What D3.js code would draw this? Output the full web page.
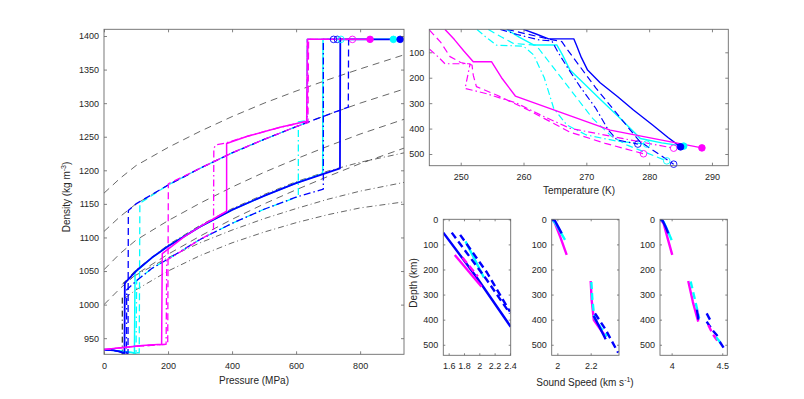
<!DOCTYPE html>
<html>
<head>
<meta charset="utf-8">
<script src="https://cdn.jsdelivr.net/npm/d3@7"></script>
<style>
body { margin: 0; background: #fff; }
text { font-family: "Liberation Sans", Arial, sans-serif; fill: #262626; }
</style>
</head>
<body>
<svg id="chart" width="804" height="399"></svg>
<script>
// ---------- main panel: density vs pressure ([P MPa, rho kg/m3]) ----------
var pressTicks = [0, 200, 400, 600, 800]
var densTicks = [950, 1000, 1050, 1100, 1150, 1200, 1250, 1300, 1350, 1400]

// black reference curves
var refDash1 = [[0,1166],[50,1188],[100,1207],[200,1234],[300,1258],[400,1280],[500,1300],[600,1318],[700,1335],[800,1351],[937,1372]]
var refDash2 = [[0,1109],[50,1131],[100,1150],[200,1178],[300,1203],[400,1226],[500,1246],[600,1265],[700,1283],[800,1300],[937,1321]]
var refDash3 = [[0,1052],[50,1076],[100,1096],[200,1125],[300,1151],[400,1175],[500,1197],[600,1217],[700,1236],[800,1254],[937,1276]]
var refDash4 = [[0,1000],[50,1024],[100,1045],[200,1075],[300,1102],[400,1127],[500,1150],[600,1171],[700,1191],[800,1210],[937,1233]]
var refDot1 = [[57,1030],[100,1052],[200,1089],[300,1118],[400,1143],[500,1164],[600,1183],[700,1199],[800,1212],[937,1226]]
var refDot2 = [[60,1032],[100,1044],[200,1070],[300,1092],[400,1111],[500,1128],[600,1143],[700,1157],[800,1169],[937,1182]]
var refDot3 = [[66,1010],[100,1022],[200,1050],[300,1073],[400,1092],[500,1108],[600,1122],[700,1134],[800,1144],[937,1153]]
var refVert = [[57,924],[57,1012]]

// coloured profiles
var magSolidP = [[0,933],[60,936],[120,939],[180,941],[182,1076],[250,1101],[300,1116],[383,1139],[383,1240],[450,1251],[550,1264],[633,1273],[635,1395],[831,1395]]
var magDashP = [[0,933],[100,938],[199,941],[201,1180],[300,1203],[400,1226],[500,1246],[600,1265],[637,1271],[639,1395],[776,1395]]
var magDotP = [[0,933],[100,938],[194,941],[196,1066],[250,1082],[300,1097],[342,1108],[343,1233],[350,1238],[383,1241],[450,1251],[550,1264],[635,1273],[637,1395],[776,1395]]
var cyanSolidP = [[0,933],[50,931],[95,928],[97,1048],[150,1070],[200,1087],[300,1116],[400,1141],[500,1162],[600,1181],[683,1195],[684,1395],[904,1395]]
var cyanDashP = [[0,933],[60,930],[110,928],[112,1151],[200,1178],[300,1203],[400,1226],[500,1246],[600,1265],[633,1271],[635,1395],[740,1395]]
var cyanDotP = [[0,933],[60,930],[100,927],[102,1036],[150,1054],[200,1068],[300,1097],[400,1121],[500,1142],[607,1161],[607,1272],[633,1274],[635,1395],[740,1395]]
var blueSolidP = [[0,933],[30,932],[50,930],[64,927],[65,1032],[100,1050],[150,1070],[200,1087],[300,1116],[400,1141],[500,1162],[600,1181],[700,1197],[737,1203],[738,1395],[925,1395]]
var blueDashP = [[0,933],[30,932],[60,929],[75,927],[76,1140],[100,1150],[200,1178],[300,1203],[400,1226],[500,1246],[600,1265],[700,1283],[763,1294],[764,1395],[729,1395]]
var blueDotP = [[0,933],[30,932],[60,929],[70,926],[71,1022],[100,1035],[150,1054],[200,1068],[300,1097],[400,1121],[500,1142],[600,1160],[685,1172],[685,1395],[717,1395]]

// end markers [P, rho, colour, filled]
var pressMarks = [[717,1395,'b',0],[729,1395,'b',0],[740,1395,'c',0],[776,1395,'m',0],[831,1395,'m',1],[904,1395,'c',1],[925,1395,'b',1]]

// ---------- top right: temperature vs depth ([T K, depth km]) ----------
var tempTicks = [250, 260, 270, 280, 290]
var depthTicksT = [100, 200, 300, 400, 500]
var magSolidT = [[247.5,10],[249,50],[250.5,95],[252,137],[254.9,137],[256.5,200],[258.7,272],[273.8,406],[288.4,476]]
var magDashT = [[245,12],[246.8,60],[248.3,117],[250,140],[251.8,150],[252,190],[252.5,235],[255.7,268],[261,330],[267.4,414],[273,458],[279.1,499]]
var magDotT = [[245,87],[246.5,120],[247.5,145],[251.5,145],[250.7,242],[254,262],[258.9,300],[263,350],[267.4,399],[276,440],[283.9,477]]
var cyanSolidT = [[257.3,10],[259.3,40],[261.6,71],[265.3,71],[266.2,110],[267.4,170],[269.5,220],[272.2,285],[275.5,362],[278.6,439],[282,456],[285.5,469]]
var cyanDashT = [[254.4,10],[256.5,40],[258.4,65],[262,72],[263.5,120],[266,200],[268.5,280],[271,360],[274,430],[276.5,465],[282.8,527]]
var cyanDotT = [[252.6,10],[254,40],[255.7,72],[260,76],[261.6,110],[263.3,200],[264.8,320],[266.9,386],[270,425],[275,450],[279.6,461]]
var blueSolidT = [[260,10],[262,28],[264,47],[268,47],[268.4,70],[269.2,120],[270.2,170],[272.2,220],[275,275],[277.5,327],[280.5,385],[283,435],[285,472]]
var blueDashT = [[257.4,10],[260.5,28],[264,48],[266.1,58],[267,90],[268.8,150],[271.5,240],[274.5,330],[277,406],[278.5,450],[283.9,540]]
var blueDotT = [[256.3,10],[259,30],[262.6,52],[264.5,55],[265.5,100],[267,160],[269,235],[271.5,320],[273.5,406],[274.9,445],[278.2,461]]
var tempMarks = [[278.2,461,'b',0],[283.9,540,'b',0],[279.6,461,'c',0],[282.8,527,'c',0],[279.1,499,'m',0],[283.9,477,'m',0],[285.5,469,'c',1],[285,472,'b',1],[288.4,476,'m',1]]

// ---------- bottom: sound speed vs depth ([v km/s, depth km]) ----------
var depthTicksB = [0, 100, 200, 300, 400, 500]
var speed1Ticks = [1.6, 1.8, 2, 2.2, 2.4]
var speed2Ticks = [2, 2.2]
var speed3Ticks = [4, 4.5]

var s1BlueSolid = [[1.53,53],[1.96,229],[2.41,428]]
var s1BlueDash = [[1.64,53],[2.09,238],[2.4,375]]
var s1BlueDash2 = [[1.75,62],[2.1,212],[2.4,368]]
var s1Cyan = [[1.82,88],[2.06,232]]
var s1MagSolid = [[1.68,142],[2.03,269]]
var s1MagDash = [[1.78,152],[1.98,228]]

var s2Mag1 = [[1.968,0],[1.985,15],[2.02,75],[2.056,142]]
var s2Cyan1 = [[1.968,0],[1.99,18],[2.02,52],[2.046,82]]
var s2Blue1 = [[1.966,0],[1.985,5],[2.005,30],[2.026,56]]
var s2Mag2 = [[2.2,246],[2.206,322],[2.219,402],[2.26,440],[2.29,468]]
var s2Cyan2 = [[2.204,250],[2.21,320],[2.222,392],[2.26,432],[2.3,466]]
var s2Blue2 = [[2.218,385],[2.25,425],[2.29,478]]
var s2BlueDash2 = [[2.226,375],[2.29,440],[2.365,532]]

var s3Blue1 = [[3.885,0],[3.91,5],[3.94,30],[3.967,56]]
var s3Cyan1 = [[3.885,0],[3.92,10],[3.96,45],[4.0,83]]
var s3Mag1 = [[3.885,0],[3.92,15],[3.96,75],[4.006,142]]
var s3Mag2 = [[4.164,246],[4.21,330],[4.263,408]]
var s3Cyan2 = [[4.188,248],[4.23,320],[4.272,394]]
var s3Blue2 = [[4.25,360],[4.265,400]]
var s3Blue3 = [[4.346,375],[4.39,408]]
var s3Blue4 = [[4.346,408],[4.4,440],[4.46,468]]
var s3Mag3 = [[4.362,421],[4.41,460],[4.46,488]]
var s3Cyan3 = [[4.44,470],[4.48,490]]
var s3Blue5 = [[4.475,488],[4.524,518]]

var colors = { m: '#ff00ff', c: '#00ffff', b: '#0000ff', k: '#000000' }
var dashes = { solid: null, dash: '7,4', dot: '7,3,1.5,3', kdash: '7,5', kdot: '6,3,1,3' }

var svg = d3.select('#chart')
var clipCount = 0

function makePanel(o) {
	var x = d3.scaleLinear().domain(o.xd).range([o.l, o.r])
	var y = d3.scaleLinear().domain(o.yd).range(o.down ? [o.t, o.b] : [o.b, o.t])
	var id = 'clip' + (clipCount++)
	svg.append('clipPath').attr('id', id)
		.append('rect')
		.attr('x', o.l).attr('y', o.t)
		.attr('width', o.r - o.l).attr('height', o.b - o.t)
	var g = svg.append('g').attr('clip-path', 'url(#' + id + ')')
	return { x: x, y: y, g: g, o: o }
}

function addLine(p, data, col, style, width) {
	var line = d3.line().x(d => p.x(d[0])).y(d => p.y(d[1]))
	p.g.append('path')
		.datum(data)
		.attr('d', line)
		.attr('fill', 'none')
		.attr('stroke', colors[col])
		.attr('stroke-width', width)
		.attr('stroke-dasharray', dashes[style])
		.attr('stroke-linejoin', 'round')
}

function addMarks(p, marks, r) {
	svg.append('g').selectAll('circle')
		.data(marks)
		.enter()
		.append('circle')
			.attr('cx', d => p.x(d[0]))
			.attr('cy', d => p.y(d[1]))
			.attr('r', r)
			.attr('fill', d => d[3] ? colors[d[2]] : 'none')
			.attr('stroke', d => colors[d[2]])
			.attr('stroke-width', 0.9)
}

function drawAxes(p, xt, yt, tk, xpad) {
	var o = p.o
	var ax = svg.append('g').attr('color', '#262626')
	var fmt = d3.format('')
	var parts = [
		ax.append('g').attr('transform', 'translate(0,' + o.b + ')')
			.call(d3.axisBottom(p.x).tickValues(xt).tickFormat(fmt).tickSizeInner(-tk).tickSizeOuter(0).tickPadding(xpad)),
		ax.append('g').attr('transform', 'translate(0,' + o.t + ')')
			.call(d3.axisTop(p.x).tickValues(xt).tickFormat('').tickSizeInner(-tk).tickSizeOuter(0)),
		ax.append('g').attr('transform', 'translate(' + o.l + ',0)')
			.call(d3.axisLeft(p.y).tickValues(yt).tickFormat(fmt).tickSizeInner(-tk).tickSizeOuter(0).tickPadding(5)),
		ax.append('g').attr('transform', 'translate(' + o.r + ',0)')
			.call(d3.axisRight(p.y).tickValues(yt).tickFormat('').tickSizeInner(-tk).tickSizeOuter(0))
	]
	parts.forEach(a => {
		a.select('.domain').remove()
		a.attr('font-size', 9).attr('font-family', '"Liberation Sans", Arial, sans-serif')
		a.selectAll('line').attr('stroke', '#4d4d4d').attr('stroke-width', 0.7)
	})
	ax.append('rect')
		.attr('x', o.l).attr('y', o.t)
		.attr('width', o.r - o.l).attr('height', o.b - o.t)
		.attr('fill', 'none')
		.attr('stroke', '#6b6b6b')
		.attr('stroke-width', 0.9)
}

// ---------- main panel ----------
var pMain = makePanel({ l: 104, r: 404, t: 29.3, b: 354.3, xd: [0, 937], yd: [926, 1410] })
;[refDash1, refDash2, refDash3, refDash4].forEach(d => addLine(pMain, d, 'k', 'kdash', 0.6))
;[refDot1, refDot2, refDot3].forEach(d => addLine(pMain, d, 'k', 'kdot', 0.6))
addLine(pMain, refVert, 'k', 'kdot', 1)
addLine(pMain, cyanDotP, 'c', 'dot', 1.3)
addLine(pMain, cyanDashP, 'c', 'dash', 1.3)
addLine(pMain, cyanSolidP, 'c', 'solid', 1.5)
addLine(pMain, blueDotP, 'b', 'dot', 1.3)
addLine(pMain, blueDashP, 'b', 'dash', 1.3)
addLine(pMain, blueSolidP, 'b', 'solid', 1.8)
addLine(pMain, magDotP, 'm', 'dot', 1.3)
addLine(pMain, magDashP, 'm', 'dash', 1.3)
addLine(pMain, magSolidP, 'm', 'solid', 1.5)
addMarks(pMain, pressMarks, 3.3)
drawAxes(pMain, pressTicks, densTicks, 3, 8)

// ---------- temperature panel ----------
var pTemp = makePanel({ l: 429.3, r: 728.3, t: 29.3, b: 165.7, xd: [245, 292.6], yd: [9.5, 546], down: true })
addLine(pTemp, cyanDotT, 'c', 'dot', 1.2)
addLine(pTemp, cyanDashT, 'c', 'dash', 1.2)
addLine(pTemp, cyanSolidT, 'c', 'solid', 1.4)
addLine(pTemp, blueDotT, 'b', 'dot', 1.2)
addLine(pTemp, blueDashT, 'b', 'dash', 1.2)
addLine(pTemp, blueSolidT, 'b', 'solid', 1.4)
addLine(pTemp, magDotT, 'm', 'dot', 1.2)
addLine(pTemp, magDashT, 'm', 'dash', 1.2)
addLine(pTemp, magSolidT, 'm', 'solid', 1.4)
addMarks(pTemp, tempMarks, 3.3)
drawAxes(pTemp, tempTicks, depthTicksT, 3, 8)

// ---------- sound speed panels ----------
var pS1 = makePanel({ l: 443.3, r: 510.7, t: 219.3, b: 355.3, xd: [1.53, 2.41], yd: [0, 542], down: true })
addLine(pS1, s1Cyan, 'c', 'solid', 2.4)
addLine(pS1, s1BlueDash2, 'b', 'dash', 2.4)
addLine(pS1, s1BlueDash, 'b', 'dash', 2.4)
addLine(pS1, s1BlueSolid, 'b', 'solid', 2.4)
addLine(pS1, s1MagSolid, 'm', 'solid', 2.4)
addLine(pS1, s1MagDash, 'm', 'dash', 2.4)
drawAxes(pS1, speed1Ticks, depthTicksB, 2, 7)

var pS2 = makePanel({ l: 551.7, r: 619, t: 219.3, b: 355.3, xd: [1.966, 2.37], yd: [0, 542], down: true })
addLine(pS2, s2Mag1, 'm', 'solid', 2.4)
addLine(pS2, s2Cyan1, 'c', 'solid', 2.4)
addLine(pS2, s2Blue1, 'b', 'solid', 2.4)
addLine(pS2, s2Mag2, 'm', 'solid', 2.4)
addLine(pS2, s2Cyan2, 'c', 'dash', 2.4)
addLine(pS2, s2Blue2, 'b', 'solid', 2.4)
addLine(pS2, s2BlueDash2, 'b', 'dash', 2.4)
drawAxes(pS2, speed2Ticks, depthTicksB, 2, 7)

var pS3 = makePanel({ l: 660, r: 727.3, t: 219.3, b: 355.3, xd: [3.885, 4.55], yd: [0, 542], down: true })
addLine(pS3, s3Mag1, 'm', 'solid', 2.4)
addLine(pS3, s3Cyan1, 'c', 'solid', 2.4)
addLine(pS3, s3Blue1, 'b', 'solid', 2.4)
addLine(pS3, s3Mag2, 'm', 'solid', 2.4)
addLine(pS3, s3Cyan2, 'c', 'dash', 2.4)
addLine(pS3, s3Blue2, 'b', 'solid', 2.4)
addLine(pS3, s3Blue3, 'b', 'dash', 2.4)
addLine(pS3, s3Blue4, 'b', 'dash', 2.4)
addLine(pS3, s3Mag3, 'm', 'dash', 2.4)
addLine(pS3, s3Cyan3, 'c', 'dash', 2.4)
addLine(pS3, s3Blue5, 'b', 'dash', 2.4)
drawAxes(pS3, speed3Ticks, depthTicksB, 2, 7)

// ---------- axis labels ----------
svg.append('text').attr('x', 254).attr('y', 384).attr('text-anchor', 'middle')
	.attr('font-size', 10).text('Pressure (MPa)')

var dl = svg.append('text').attr('transform', 'translate(70,197) rotate(-90)')
	.attr('text-anchor', 'middle').attr('font-size', 10)
dl.append('tspan').text('Density (kg m')
dl.append('tspan').attr('dy', -4).attr('font-size', 7).text('-3')
dl.append('tspan').attr('dy', 4).text(')')

svg.append('text').attr('x', 579).attr('y', 194).attr('text-anchor', 'middle')
	.attr('font-size', 10).text('Temperature (K)')

svg.append('text').attr('transform', 'translate(417,283) rotate(-90)')
	.attr('text-anchor', 'middle').attr('font-size', 10).text('Depth (km)')

var sl = svg.append('text').attr('x', 585).attr('y', 386).attr('text-anchor', 'middle').attr('font-size', 10)
sl.append('tspan').text('Sound Speed (km s')
sl.append('tspan').attr('dy', -4).attr('font-size', 7).text('-1')
sl.append('tspan').attr('dy', 4).text(')')
</script>
</body>
</html>
